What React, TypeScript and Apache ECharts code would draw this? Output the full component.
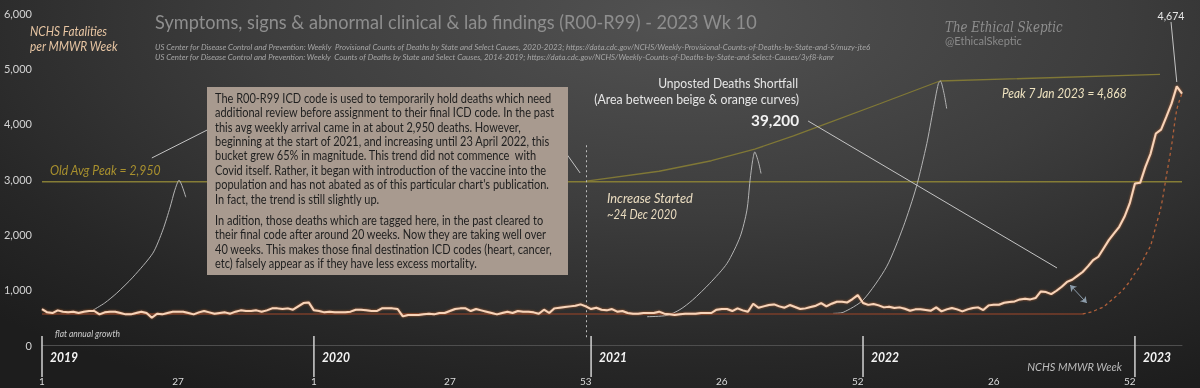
import React, { useEffect, useRef } from "react";
import * as echarts from "echarts";

// ---------- data ----------
const YEARS = [2019, 2020, 2021, 2022, 2023];
const WEEKS_PER_YEAR = [52, 53, 52, 52, 10];
const X_LABEL_STEP = 26;
const Y_MAX = 6000;
const Y_STEP = 1000;

// weekly R00-R99 deaths (index 0 = 2019 wk 1)
const R00_R99 = [
  650, 590, 578, 626, 602, 590, 602, 578, 602, 614,
  614, 554, 590, 602, 602, 578, 554, 554, 578, 602,
  578, 493, 566, 554, 578, 602, 602, 602, 578, 554,
  590, 614, 590, 566, 578, 590, 566, 602, 626, 614,
  614, 626, 602, 626, 662, 662, 650, 662, 638, 698,
  758, 770, 626, 614, 590, 602, 590, 590, 590, 602,
  638, 638, 626, 614, 614, 662, 662, 662, 650, 517,
  542, 542, 542, 554, 566, 554, 578, 578, 614, 650,
  662, 662, 614, 650, 626, 602, 578, 554, 578, 602,
  578, 614, 602, 602, 590, 566, 638, 578, 662, 674,
  686, 698, 710, 734, 698, 650, 674, 638, 626, 650,
  602, 614, 578, 566, 566, 578, 578, 578, 602, 566,
  554, 542, 554, 566, 566, 566, 578, 578, 578, 638,
  650, 650, 614, 662, 626, 602, 746, 674, 698, 722,
  734, 698, 674, 722, 686, 650, 662, 686, 710, 758,
  698, 746, 782, 782, 770, 830, 902, 760, 725, 740,
  716, 680, 692, 668, 680, 656, 620, 644, 644, 632,
  620, 680, 608, 644, 668, 644, 608, 644, 668, 680,
  632, 716, 728, 728, 764, 776, 788, 824, 836, 824,
  848, 968, 956, 920, 980, 1053, 1140, 1180, 1250, 1320,
  1420, 1534, 1595, 1745, 1895, 2016, 2136, 2317, 2558, 2919,
  2931, 3219, 3460, 3821, 3893, 4122, 4362, 4674, 4542,
];

// orange (expected-posting) curve: flat part + dashed rise  [week index, deaths]
const ORANGE_FLAT = [[0, 560], [199, 560]];
const ORANGE_RISE = [
  [199, 560], [200, 580], [201, 610], [202, 650], [203, 690], [204, 770],
  [205, 850], [206, 933], [207, 1030], [208, 1150], [209, 1294], [210, 1430],
  [211, 1620], [212, 1800], [213, 2150], [214, 2500], [215, 3050], [216, 3600],
  [217, 4250], [218, 4550],
];

// grey arrival curves [week index, deaths]
const ARRIVAL_2019 = [
  [9.7, 626], [12, 760], [14.3, 938], [17.4, 1227], [21.2, 1660], [23.1, 2076],
  [24.5, 2491], [25.4, 2798], [26.2, 2978], [27.5, 2671],
];
const ARRIVAL_2021 = [
  [115.7, 511], [119.5, 535], [122, 640], [124.4, 812], [127.7, 1114], [131.0, 1475],
  [133.5, 1956], [134.8, 2437], [135.4, 2978], [135.9, 3339], [136.3, 3489],
  [137.0, 3309], [137.5, 3099],
];
const ARRIVAL_2022 = [
  [151.3, 572], [153.2, 590], [157.0, 812], [161.5, 1413], [164.7, 2135],
  [167.2, 2858], [169.2, 3640], [170.4, 4242], [171.4, 4723], [171.8, 4771],
  [172.5, 4543], [173.0, 4273],
];

// olive reference lines
const OLD_AVG_PEAK = 2950;
const OLD_AVG_LINE = [[0, OLD_AVG_PEAK], [218, OLD_AVG_PEAK]];
const PEAK_TREND = [
  [104.1, 2960], [118, 3140], [128, 3330], [136.3, 3540], [143.7, 3780],
  [150, 4000], [160.2, 4360], [171.7, 4771], [213.8, 4890],
];

// annotation leader lines [[x1,y1],[x2,y2]] in data units
const LEADERS = [
  [[21.0, 3380], [31.6, 3886]],
  [[98.7, 3669], [102.9, 3109]],
  [[146.5, 4048], [194.1, 1392]],
  [[215.9, 5838], [217.0, 4753]],
];
const DOUBLE_ARROW = [[196.6, 1084], [199.8, 759]];
const INCREASE_START = [[104, 3610], [104, 100]];

const TITLE = "Symptoms, signs & abnormal clinical & lab findings (R00-R99) - 2023 Wk 10";
const SRC1 =
  "US Center for Disease Control and Prevention: Weekly  Provisional Counts of Deaths by State and Select Causes, 2020-2023; https://data.cdc.gov/NCHS/Weekly-Provisional-Counts-of-Deaths-by-State-and-S/muzy-jte6";
const SRC2 =
  "US Center for Disease Control and Prevention: Weekly  Counts of Deaths by State and Select Causes, 2014-2019; https://data.cdc.gov/NCHS/Weekly-Counts-of-Deaths-by-State-and-Select-Causes/3yf8-kanr";
const BOX_P1 = [
  "The R00-R99 ICD code is used to temporarily hold deaths which need",
  "additional review before assignment to their final ICD code. In the past",
  "this avg weekly arrival came in at about 2,950 deaths. However,",
  "beginning at the start of 2021, and increasing until 23 April 2022, this",
  "bucket grew 65% in magnitude. This trend did not commence  with",
  "Covid itself. Rather, it began with introduction of the vaccine into the",
  "population and has not abated as of this particular chart's publication.",
  "In fact, the trend is still slightly up.",
];
const BOX_P2 = [
  "In adition, those deaths which are tagged here, in the past cleared to",
  "their final code after around 20 weeks. Now they are taking well over",
  "40 weeks. This makes those final destination ICD codes (heart, cancer,",
  "etc) falsely appear as if they have less excess mortality.",
];

// ---------- helpers ----------
const WEEK_NUMBERS: number[] = [];
const YEAR_START: number[] = [];
WEEKS_PER_YEAR.forEach((n) => {
  YEAR_START.push(WEEK_NUMBERS.length);
  for (let w = 1; w <= n; w++) WEEK_NUMBERS.push(w);
});
const LAST = R00_R99.length - 1;

let measureCtx: CanvasRenderingContext2D | null = null;
function textWidth(text: string, font: string) {
  if (!measureCtx) measureCtx = document.createElement("canvas").getContext("2d");
  measureCtx!.font = font;
  return measureCtx!.measureText(text).width;
}

type TSpec = {
  text: string; x: number; y: number; size: number; color: string;
  italic?: boolean; bold?: boolean; family?: string; align?: string; target?: number;
  vAlign?: string;
};
function txt(t: TSpec) {
  const family = t.family ?? "Lato";
  const font = `${t.italic ? "italic" : "normal"} ${t.bold ? "bold" : "normal"} ${t.size}px ${family}`;
  const sx = t.target ? t.target / textWidth(t.text, font) : 1;
  const align = t.align ?? "left";
  const va = t.vAlign ?? "middle";
  return {
    type: "text", x: t.x, y: t.y, scaleX: sx, z: 30, silent: true,
    style: {
      text: t.text, fill: t.color, fontSize: t.size, fontFamily: family,
      fontStyle: t.italic ? "italic" : "normal", fontWeight: t.bold ? "bold" : "normal",
      align, verticalAlign: va, textAlign: align, textVerticalAlign: va,
    },
  };
}

export default function App() {
  const ref = useRef<HTMLDivElement>(null);
  useEffect(() => {
    const chart = echarts.init(ref.current!, undefined, { renderer: "svg" });
    const lineBase = { type: "line", symbol: "none", silent: true, animation: false };
    chart.setOption({
      animation: false,
      backgroundColor: "transparent",
      grid: { left: 42, right: 18, top: 13, bottom: 43, containLabel: false },
      xAxis: {
        type: "value", min: 0, max: LAST, interval: X_LABEL_STEP,
        axisLine: { show: true, lineStyle: { color: "#4e4e4e", width: 1 } },
        axisTick: { show: false },
        splitLine: { show: false },
        axisLabel: {
          color: "#dcdcdc", fontSize: 10, fontFamily: "Lato", margin: 31,
          showMaxLabel: false,
          formatter: (v: number) =>
            v % X_LABEL_STEP === 0 && v < LAST ? String(WEEK_NUMBERS[v]) : "",
        },
      },
      yAxis: {
        type: "value", min: 0, max: Y_MAX, interval: Y_STEP,
        axisLine: { show: false }, axisTick: { show: false }, splitLine: { show: false },
        axisLabel: { color: "#d4d4d4", fontSize: 11, fontFamily: "Lato", margin: 10 },
      },
      series: [
        {
          ...lineBase, name: "Old avg peak", data: OLD_AVG_LINE, z: 2,
          lineStyle: { color: "#857d36", width: 1.3 },
          markLine: {
            silent: true, animation: false, symbol: ["none", "none"],
            label: { show: false },
            lineStyle: { color: "#c4c4c4", width: 1, type: "solid" },
            data: [
              ...LEADERS.map((l) => [{ coord: l[0] }, { coord: l[1] }]),
              [
                { coord: DOUBLE_ARROW[0], symbol: "arrow", symbolSize: 6 },
                { coord: DOUBLE_ARROW[1], symbol: "arrow", symbolSize: 6,
                  lineStyle: { color: "#8c9caa", width: 1 } },
              ],
              [
                { coord: INCREASE_START[0] },
                { coord: INCREASE_START[1], lineStyle: { color: "#bdbdbd", width: 1, type: [2, 3] } },
              ],
            ],
          },
        },
        {
          ...lineBase, name: "Peak trend", data: PEAK_TREND, z: 2,
          lineStyle: { color: "#807836", width: 1.3 },
        },
        ...[ARRIVAL_2019, ARRIVAL_2021, ARRIVAL_2022].map((d, k) => ({
          ...lineBase, name: "Arrival " + k, data: d, z: 3, smooth: 0.25,
          lineStyle: { color: "#b4b4b4", width: 1 },
        })),
        {
          ...lineBase, name: "Orange flat", data: ORANGE_FLAT, z: 3,
          lineStyle: { color: "#7a3e2a", width: 1.5 },
        },
        {
          ...lineBase, name: "Orange rise", data: ORANGE_RISE, z: 3, smooth: 0.3,
          lineStyle: { color: "#b0603a", width: 1.3, type: [3, 3] },
        },
        {
          ...lineBase, name: "R00-R99", data: R00_R99.map((v, i) => [i, v]), z: 5,
          lineStyle: {
            color: "#f8d4b8", width: 2,
            shadowColor: "rgba(200,105,45,0.85)", shadowBlur: 2,
          },
        },
      ],
    });

    const px = (x: number, y: number) => chart.convertToPixel({ gridIndex: 0 }, [x, y]) as number[];
    const axisY = px(0, 0)[1];
    const els: any[] = [];

    // year separators & labels
    YEARS.forEach((yr, k) => {
      const x = px(YEAR_START[k], 0)[0];
      els.push({
        type: "line", z: 25, silent: true,
        shape: { x1: x, y1: axisY - 9, x2: x, y2: axisY + 32 },
        style: { stroke: "#d2d2d2", lineWidth: 1.5 },
      });
      els.push(txt({ text: String(yr), x: x + 8, y: axisY + 12, size: 14, bold: true, italic: true, color: "#f4f4f4", target: 28 }));
    });

    // text box
    els.push({
      type: "rect", z: 20, silent: true,
      shape: { x: 207, y: 87, width: 361, height: 188 },
      style: { fill: "#a89a8f" },
    });
    const boxFont = "normal normal 12.5px Lato";
    const boxScale = 340 / textWidth(BOX_P1[1], boxFont);
    const boxLine = (s: string, y: number) => ({
      type: "text", x: 215, y, scaleX: boxScale, z: 30, silent: true,
      style: { text: s, fill: "#1f1f1f", fontSize: 12.5, fontFamily: "Lato", align: "left", verticalAlign: "middle", textAlign: "left", textVerticalAlign: "middle" },
    });
    BOX_P1.forEach((s, k) => els.push(boxLine(s, 98 + 14.4 * k)));
    BOX_P2.forEach((s, k) => els.push(boxLine(s, 220 + 14.4 * k)));

    // texts
    els.push(txt({ text: TITLE, x: 155, y: 21, size: 20, color: "#8e8e8e", target: 602 }));
    els.push(txt({ text: SRC1, x: 155, y: 47, size: 8, italic: true, color: "#a6a6a6", target: 717 }));
    els.push(txt({ text: SRC2, x: 155, y: 57, size: 8, italic: true, color: "#a6a6a6", target: 681 }));
    els.push(txt({ text: "NCHS Fatalities", x: 30, y: 31, size: 13, italic: true, color: "#e6c4a2", target: 77 }));
    els.push(txt({ text: "per MMWR Week", x: 30, y: 46, size: 13, italic: true, color: "#e6c4a2", target: 88 }));
    els.push(txt({ text: "The Ethical Skeptic", x: 945, y: 26, size: 15, italic: true, family: "DejaVu Serif", color: "#8e8e8e", target: 118 }));
    els.push(txt({ text: "@EthicalSkeptic", x: 945, y: 41, size: 11, color: "#8a8a8a", target: 77 }));
    els.push(txt({ text: "4,674", x: 1171, y: 15, size: 11, color: "#e6e6e6", align: "center", target: 27 }));
    els.push(txt({ text: "Unposted Deaths Shortfall", x: 798, y: 83, size: 13, color: "#e6e6e6", align: "right", target: 140 }));
    els.push(txt({ text: "(Area between beige & orange curves)", x: 799, y: 99, size: 13, color: "#e6e6e6", align: "right", target: 205 }));
    els.push(txt({ text: "39,200", x: 799, y: 120, size: 15, bold: true, color: "#f2f2f2", align: "right", target: 48 }));
    els.push(txt({ text: "Peak 7 Jan 2023 = 4,868", x: 1002, y: 93, size: 13, italic: true, color: "#efe3c0", target: 125 }));
    els.push(txt({ text: "Old Avg Peak = 2,950", x: 50, y: 170, size: 13, italic: true, color: "#a8902e", target: 111 }));
    els.push(txt({ text: "Increase Started", x: 607, y: 198, size: 13, italic: true, color: "#eadcc0", target: 86 }));
    els.push(txt({ text: "~24 Dec 2020", x: 607, y: 214, size: 13, italic: true, color: "#eadcc0", target: 70 }));
    els.push(txt({ text: "flat annual growth", x: 55, y: 333, size: 10, italic: true, color: "#cfcfcf", target: 65 }));
    els.push(txt({ text: "NCHS MMWR Week", x: 1122, y: 366, size: 12, italic: true, color: "#bdbdbd", align: "right", target: 95 }));

    chart.setOption({ graphic: els });
    return () => chart.dispose();
  }, []);

  return (
    <div
      ref={ref}
      style={{
        position: "fixed", left: 0, top: 0, width: 1200, height: 388,
        background:
          "radial-gradient(ellipse 80% 110% at 57% 5%, #525252 0%, #3d3d3d 45%, #272727 80%, #1d1d1d 100%)",
      }}
    />
  );
}
